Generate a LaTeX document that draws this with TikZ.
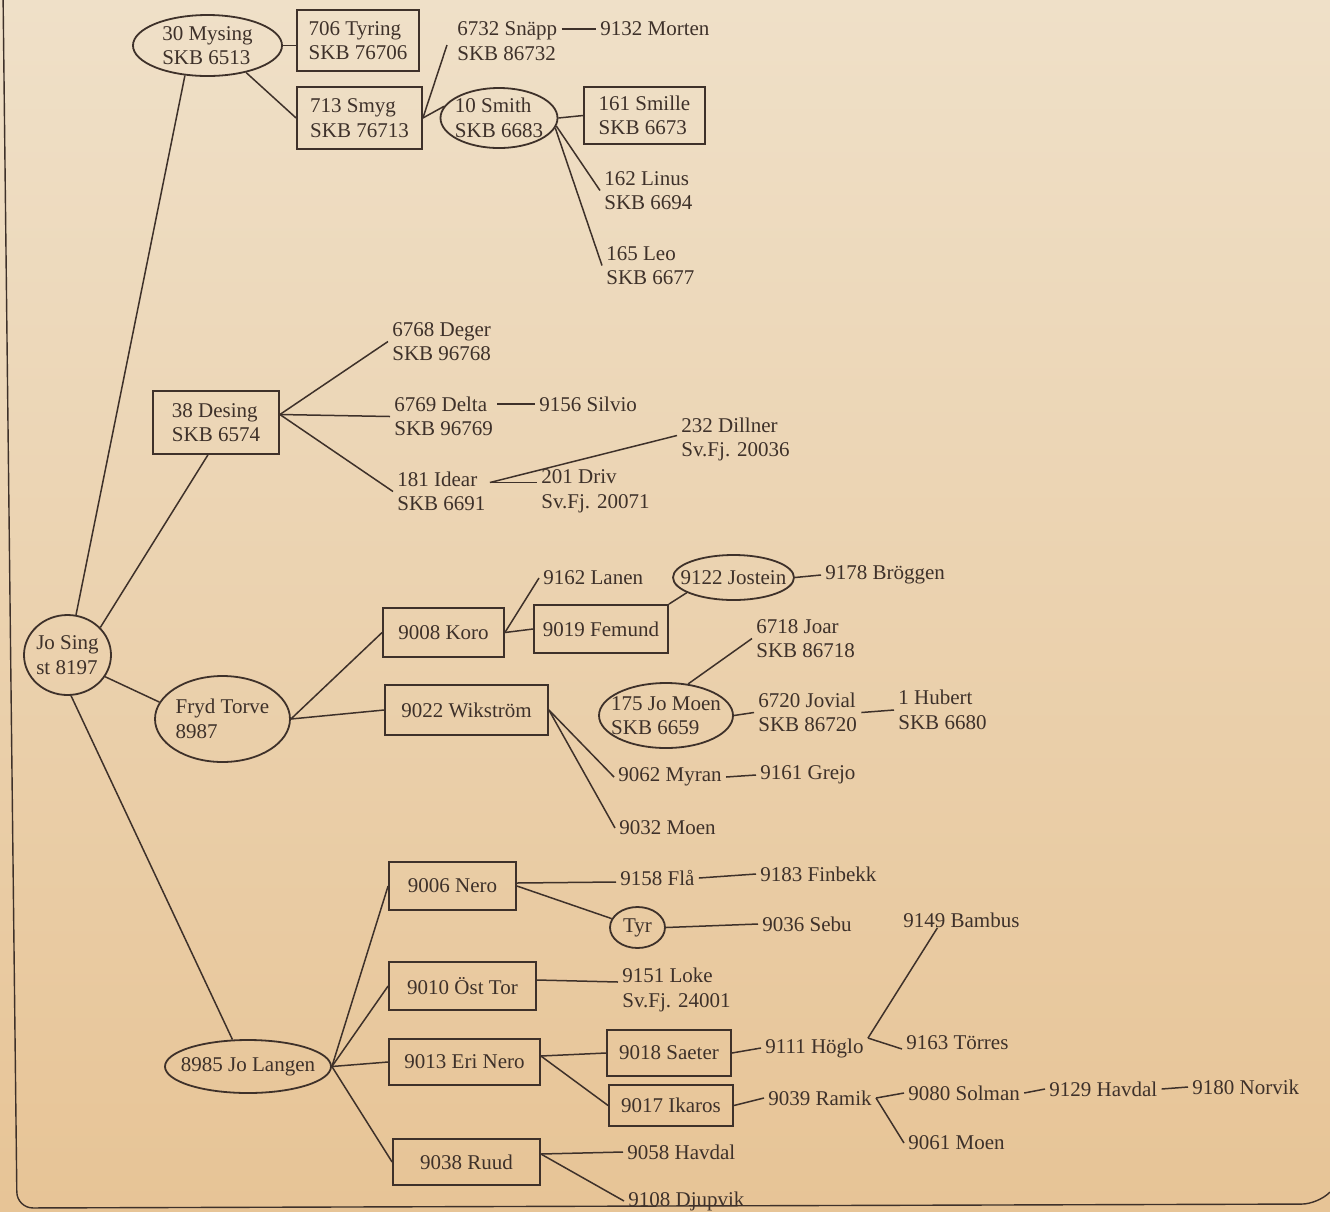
\documentclass[tikz,border=0pt]{standalone}
\usepackage{fontspec}
\setmainfont{Liberation Serif}
\usetikzlibrary{shapes.geometric}
\definecolor{paper}{RGB}{239,224,200}
\definecolor{paperdark}{RGB}{231,196,150}
\definecolor{ink}{RGB}{62,49,42}
\begin{document}
\begin{tikzpicture}[x=0.5pt,y=-0.5pt,
    every node/.style={font=\fontsize{10.5}{12.3}\selectfont, text=ink},
    box/.style={draw=ink, line width=0.9pt, rectangle, align=left, inner sep=0pt},
    oval/.style={draw=ink, line width=0.9pt, ellipse, align=left, inner xsep=-30pt, inner ysep=-14pt},
    lab/.style={align=left, anchor=west, inner xsep=2pt, inner ysep=0pt},
    link/.style={draw=ink, line width=0.75pt}]
    % Page
    \useasboundingbox (0,0) rectangle (1330,1212);
    \shade[top color=paper, bottom color=paperdark] (0,0) rectangle (1330,1212);
    \draw[ink, line width=0.7pt, rounded corners=8pt] (3,-10) -- (17,1208) -- (1318,1204) -- (1330,1192);
    % Jo Sing
    \node[oval, minimum width=43.5pt, minimum height=40pt] (josing) at (67.5,655) {Jo Sing\\st 8197};
    % Mysing
    \node[oval, minimum width=74.5pt, minimum height=30.5pt] (mysing) at (207.5,45.5) {30 Mysing\\SKB 6513};
    \node[box, minimum width=61pt, minimum height=30.5pt] (tyring) at (358,40.5) {706 Tyring\\SKB 76706};
    \node[box, minimum width=62.5pt, minimum height=31pt] (smyg) at (359.5,118) {713 Smyg\\SKB 76713};
    \node[lab] (snapp) at (453,41) {6732 Snäpp\\SKB 86732};
    \node[lab] (morten) at (596,29) {9132 Morten};
    \node[oval, minimum width=58.5pt, minimum height=30pt] (smith) at (499,118) {10 Smith\\SKB 6683};
    \node[box, minimum width=60.5pt, minimum height=28.5pt] (smille) at (644.5,115.5) {161 Smille\\SKB 6673};
    \node[lab] (linus) at (600,190.5) {162 Linus\\SKB 6694};
    \node[lab] (leo) at (602,265.5) {165 Leo\\SKB 6677};
    % Desing
    \node[box, minimum width=63pt, minimum height=31.5pt] (desing) at (216,422.5) {38 Desing\\SKB 6574};
    \node[lab] (deger) at (388,341.5) {6768 Deger\\SKB 96768};
    \node[lab] (delta) at (390,416.5) {6769 Delta\\SKB 96769};
    \node[lab] (silvio) at (535,404) {9156 Silvio};
    \node[lab] (idear) at (393,491.5) {181 Idear\\SKB 6691};
    \node[lab] (driv) at (537,491.5) {201 Driv\\Sv.Fj. 20071};
    \node[lab] (dillner) at (677,439.5) {232 Dillner\\Sv.Fj. 20036};
    % Fryd Torve
    \node[oval, minimum width=67.5pt, minimum height=43pt] (frydtorve) at (222.5,719) {Fryd Torve\\8987};
    \node[box, minimum width=60.5pt, minimum height=24.5pt] (koro) at (443.5,632.5) {9008 Koro};
    \node[box, minimum width=67pt, minimum height=24pt] (femund) at (601,629) {9019 Femund};
    \node[lab] (lanen) at (539,578) {9162 Lanen};
    \node[oval, minimum width=60.5pt, minimum height=22.5pt] (jostein) at (733.5,577.5) {9122 Jostein};
    \node[lab] (broggen) at (821,575) {9178 Bröggen};
    \node[box, minimum width=81.5pt, minimum height=25pt] (wikstrom) at (466.5,710) {9022 Wikström};
    \node[lab] (myran) at (614,777) {9062 Myran};
    \node[lab] (grejo) at (756,775) {9161 Grejo};
    \node[lab] (moen32) at (615,828) {9032 Moen};
    \node[oval, minimum width=67pt, minimum height=32.5pt] (jomoen) at (666,715.5) {175 Jo Moen\\SKB 6659};
    \node[lab] (joar) at (752,638.5) {6718 Joar\\SKB 86718};
    \node[lab] (jovial) at (754,712.5) {6720 Jovial\\SKB 86720};
    \node[lab] (hubert) at (894,710) {1 Hubert\\SKB 6680};
    % Jo Langen
    \node[oval, minimum width=83pt, minimum height=26.5pt] (jolangen) at (248,1066.5) {8985 Jo Langen};
    \node[box, minimum width=63.5pt, minimum height=24pt] (nero) at (452.5,886) {9006 Nero};
    \node[box, minimum width=73.5pt, minimum height=24pt] (osttor) at (462.5,986) {9010 Öst Tor};
    \node[box, minimum width=75.5pt, minimum height=23pt] (erinero) at (464.5,1062) {9013 Eri Nero};
    \node[box, minimum width=73.5pt, minimum height=23pt] (ruud) at (466.5,1162) {9038 Ruud};
    \node[lab] (fla) at (616,878) {9158 Flå};
    \node[lab] (finbekk) at (756,874) {9183 Finbekk};
    \node[oval, minimum width=27.5pt, minimum height=20.5pt] (tyr) at (637.5,927.5) {Tyr};
    \node[lab] (sebu) at (758,924) {9036 Sebu};
    \node[lab] (loke) at (618,990) {9151 Loke\\Sv.Fj. 24001};
    \node[box, minimum width=62pt, minimum height=23pt] (saeter) at (669,1053) {9018 Saeter};
    \node[box, minimum width=62pt, minimum height=20.5pt] (ikaros) at (671,1105.5) {9017 Ikaros};
    \node[lab] (hoglo) at (761,1048) {9111 Höglo};
    \node[lab] (bambus) at (899,920) {9149 Bambus};
    \node[lab] (torres) at (902,1043) {9163 Törres};
    \node[lab] (ramik) at (764,1098) {9039 Ramik};
    \node[lab] (solman) at (904,1093) {9080 Solman};
    \node[lab] (havdal29) at (1045,1089) {9129 Havdal};
    \node[lab] (norvik) at (1188,1087) {9180 Norvik};
    \node[lab] (moen61) at (904,1143) {9061 Moen};
    \node[lab] (havdal58) at (623,1152) {9058 Havdal};
    \node[lab] (djupvik) at (624,1201) {9108 Djupvik};
    % Links: Mysing
    \draw[link] (josing.78) -- (mysing.-127);
    \draw[link] (mysing.east) -- (mysing.east -| tyring.west);
    \draw[link] (mysing.-35) -- (smyg.west);
    \draw[link] (smyg.east) -- ([xshift=-3pt,yshift=-2pt]snapp.west);
    \draw[link] (smyg.east) -- (smith.168);
    \draw[link] (snapp.east |- morten.west) -- (morten.west);
    \draw[link] (smith.east) -- (smille.west);
    \draw[link] (smith.-8) -- (linus.west);
    \draw[link] (smith.-10) -- (leo.west);
    % Links: Desing
    \draw[link] (josing.40) -- (desing.-104);
    \foreach \k in {deger,delta,idear}
      \draw[link] ([yshift=4pt]desing.east) -- (\k.west);
    \draw[link] (delta.east |- silvio.west) -- (silvio.west);
    \draw[link] ([yshift=4.5pt]idear.east) -- ([yshift=4.5pt]driv.west);
    \draw[link] ([yshift=4.5pt]idear.east) -- ([yshift=2pt]dillner.west);
    % Links: Fryd Torve
    \draw[link] (josing.-30) -- (frydtorve.165);
    \draw[link] (frydtorve.east) -- (koro.west);
    \draw[link] (frydtorve.east) -- (wikstrom.west);
    \draw[link] (koro.east) -- (femund.west);
    \draw[link] (koro.east) -- (lanen.west);
    \draw[link] (femund.north east) -- (jostein.-162);
    \draw[link] (jostein.east) -- (broggen.west);
    \draw[link] (wikstrom.east) -- (myran.west);
    \draw[link] (wikstrom.east) -- (moen32.west);
    \draw[link] (myran.east) -- (grejo.west);
    \draw[link] (jomoen.55) -- (joar.west);
    \draw[link] (jomoen.east) -- (jovial.west);
    \draw[link] (jovial.east) -- (hubert.west);
    % Links: Jo Langen
    \draw[link] (josing.-85) -- (jolangen.120);
    \foreach \k in {nero,osttor,erinero,ruud}
      \draw[link] (jolangen.east) -- (\k.west);
    \draw[link] ([yshift=1.5pt]nero.east) -- ([yshift=-2pt]fla.west);
    \draw[link] (nero.east) -- (tyr);
    \draw[link] (fla.east) -- (finbekk.west);
    \draw[link] (tyr.east) -- (sebu.west);
    \draw[link] ([yshift=3pt]osttor.east) -- ([yshift=4pt]loke.west);
    \draw[link] ([yshift=3pt]erinero.east) -- (saeter.west);
    \draw[link] ([yshift=3pt]erinero.east) -- (ikaros.west);
    \draw[link] (saeter.east) -- (hoglo.west);
    \draw[link] (hoglo.north east) -- ([xshift=-12pt]bambus.south);
    \draw[link] (hoglo.north east) -- ([yshift=-3pt]torres.west);
    \draw[link] (ikaros.east) -- (ramik.west);
    \draw[link] (ramik.east) -- (solman.west);
    \draw[link] (ramik.east) -- (moen61.west);
    \draw[link] (solman.east) -- (havdal29.west);
    \draw[link] (havdal29.east) -- (norvik.west);
    \draw[link] ([yshift=4pt]ruud.east) -- (havdal58.west);
    \draw[link] ([yshift=4pt]ruud.east) -- (djupvik.west);
\end{tikzpicture}
\end{document}
